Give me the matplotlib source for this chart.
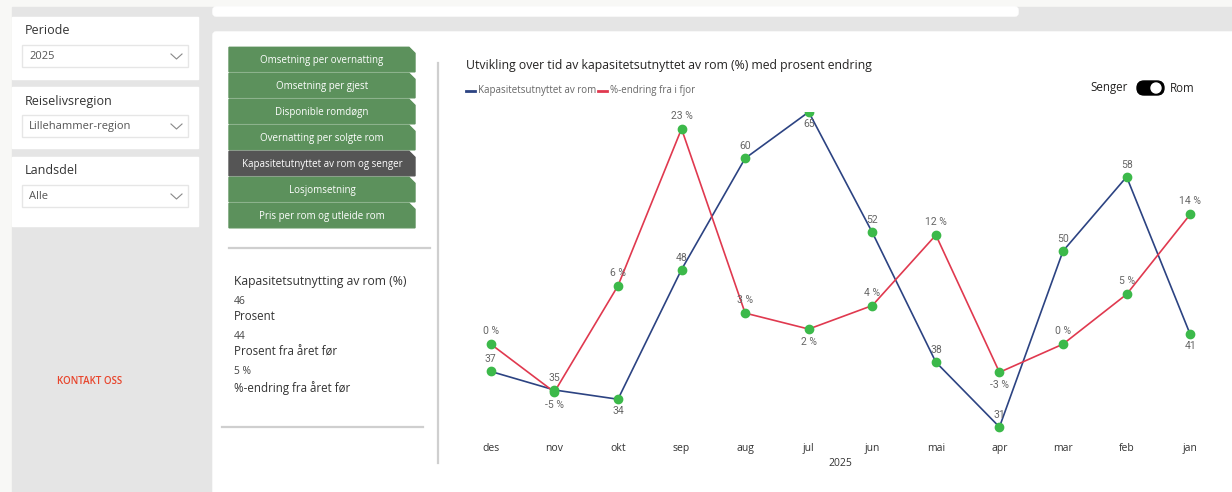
import matplotlib.pyplot as plt
from matplotlib.patches import Rectangle, FancyBboxPatch, Polygon, Circle

plt.rcParams['font.family'] = ['Open Sans', 'DejaVu Sans']

# -------------------------------
# data
# -------------------------------
months = ['des', 'nov', 'okt', 'sep', 'aug', 'jul', 'jun', 'mai', 'apr', 'mar', 'feb', 'jan']
year_label = '2025'
capacity = [37, 35, 34, 48, 60, 65, 52, 38, 31, 50, 58, 41]
pct_change = [0.1, -5.0, 6.3, 23.0, 3.4, 1.7, 4.2, 11.7, -2.9, 0.1, 5.4, 13.9]

buttons = ['Omsetning per overnatting', 'Omsetning per gjest', 'Disponible romdøgn',
           'Overnatting per solgte rom', 'Kapasitetutnyttet av rom og senger',
           'Losjomsetning', 'Pris per rom og utleide rom']
active_button = 'Kapasitetutnyttet av rom og senger'

filters = ['Periode', 'Reiselivsregion', 'Landsdel']
filter_values = ['2025', 'Lillehammer-region', 'Alle']

kpi_title = 'Kapasitetsutnytting av rom (%)'
kpi_values = ['46', '44', '5 %']
kpi_labels = ['Prosent', 'Prosent fra året før', '%-endring fra året før']

# which data labels go under the point
cap_below = ['okt', 'jul', 'jan']
pct_below = ['nov', 'jul', 'apr']

BLUE = '#2c4382'
RED = '#e0394f'
GREEN = '#3cb94a'
W, H = 1232, 492

fig = plt.figure(figsize=(W / 100, H / 100), dpi=100)

# -------------------------------
# background / dashboard layout (pixel coords)
# -------------------------------
bg = fig.add_axes([0, 0, 1, 1])
bg.set_xlim(0, W)
bg.set_ylim(H, 0)
bg.axis('off')

bg.add_patch(Rectangle((0, 0), W, H, color='#f8f8f6'))
bg.add_patch(Rectangle((12, 7), W - 12, H - 7, color='#e5e5e5'))
bg.add_patch(FancyBboxPatch((213, 7), 805, 9, boxstyle='round,pad=0,rounding_size=3',
                            color='white'))
bg.add_patch(FancyBboxPatch((213, 32), W - 213 + 5, H - 32 + 5,
                            boxstyle='round,pad=0,rounding_size=3', color='white'))

# filter cards on the left
card_tops = [17, 87, 157]
card_heights = [62, 61, 69]
for top, h, name, val in zip(card_tops, card_heights, filters, filter_values):
    bg.add_patch(Rectangle((12, top), 186, h, color='white'))
    bg.text(25, top + 14, name, fontsize=9, color='#333333', va='center')
    bg.add_patch(Rectangle((22, top + 28), 166, 22, facecolor='white',
                           edgecolor='#e6e6e6', lw=1))
    bg.text(29, top + 39.5, val, fontsize=8, color='#555555', va='center')
    bg.plot([171, 176.5, 182], [top + 37, top + 42, top + 37], color='#888888', lw=0.8)

bg.text(90, 381, 'KONTAKT OSS', fontsize=7, color='#e8452c', ha='center',
        va='center', fontweight='semibold')

# navigation buttons
for i, label in enumerate(buttons):
    top = 47.3 + i * 26
    bottom = top + 24.5
    color = '#555555' if label == active_button else '#5c915c'
    pts = [(229, top), (409, top), (415, top + 6), (415, bottom), (229, bottom)]
    bg.add_patch(Polygon(pts, closed=True, color=color))
    bg.text(322, (top + bottom) / 2 + 0.5, label, fontsize=7.0, color='white',
            ha='center', va='center')

# separators
bg.plot([229, 430], [248, 248], color='#cfcfcf', lw=1.6)
bg.plot([222, 423], [427, 427], color='#cfcfcf', lw=1.6)
bg.plot([438, 438], [63, 463], color='#cfcfcf', lw=1.6)

# KPI text block
bg.text(234, 282, kpi_title, fontsize=8.7, color='#333333', va='center')
for i, (v, lab) in enumerate(zip(kpi_values, kpi_labels)):
    y = 301 + i * 35.5
    bg.text(234, y, v, fontsize=7.4, color='#444444', va='center')
    bg.text(234, y + 16, lab, fontsize=8.3, color='#333333', va='center')

# chart title, legend and toggle
bg.text(466, 65, 'Utvikling over tid av kapasitetsutnyttet av rom (%) med prosent endring',
        fontsize=8.8, color='#252423', va='center')
bg.plot([466, 475], [91, 91], color=BLUE, lw=2)
bg.text(478, 91, 'Kapasitetsutnyttet av rom', fontsize=7.0, color='#666666', va='center')
bg.plot([598, 607], [91, 91], color=RED, lw=2)
bg.text(610, 91, '%-endring fra i fjor', fontsize=7.0, color='#666666', va='center')

bg.text(1128, 88, 'Senger', fontsize=8.3, color='#252423', va='center', ha='right')
bg.add_patch(FancyBboxPatch((1137, 81), 27, 14, boxstyle='round,pad=0,rounding_size=7',
                            color='black'))
bg.add_patch(Circle((1156, 88), 5, color='white'))
bg.text(1170, 88, 'Rom', fontsize=8.3, color='#252423', va='center')

# -------------------------------
# line chart with two y axes
# -------------------------------
left, right, top, bottom = 459, 1222, 112, 435
ax = fig.add_axes([left / W, 1 - bottom / H, (right - left) / W, (bottom - top) / H])
ax2 = ax.twinx()
for a in (ax, ax2):
    a.set_facecolor('none')
    for s in a.spines.values():
        s.set_visible(False)
    a.set_yticks([])

x = list(range(len(months)))
ax.set_xlim(-0.5, len(months) - 0.5)
ax.set_ylim(30.14, 65.0)
ax2.set_ylim(-9.57, 24.79)

ax.plot(x, capacity, color=BLUE, lw=1.2)
ax2.plot(x, pct_change, color=RED, lw=1.2)
ax2.plot(x, capacity, 'o', color=GREEN, ms=6, transform=ax.transData)
ax2.plot(x, pct_change, 'o', color=GREEN, ms=6)

for xi, m, v in zip(x, months, capacity):
    dy = -12 if m in cap_below else 12
    ax2.annotate(f'{v:.0f}', (xi, v), xycoords=ax.transData, xytext=(0, dy),
                 textcoords='offset pixels', ha='center', va='center',
                 fontsize=7.5, color='#666666', family='Roboto')
for xi, m, v in zip(x, months, pct_change):
    dy = -13 if m in pct_below else 13
    ax2.annotate(f'{v:.0f} %', (xi, v), xytext=(0, dy),
                 textcoords='offset pixels', ha='center', va='center',
                 fontsize=7.5, color='#666666', family='Roboto')

ax.set_xticks(x)
ax.set_xticklabels(months, fontsize=7.5, color='#333333')
ax.tick_params(axis='x', length=0, pad=6)
ax.set_xlabel(year_label, fontsize=7.5, color='#333333', labelpad=3)

fig.savefig('out.png', dpi=100)
